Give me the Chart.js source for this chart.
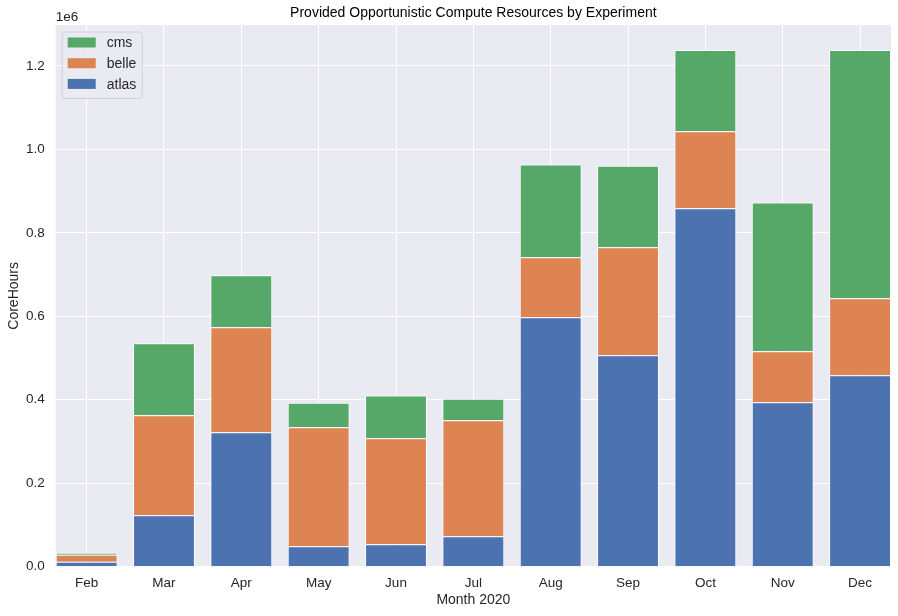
<!DOCTYPE html>
<html>
<head>
<meta charset="utf-8">
<script src="https://cdn.jsdelivr.net/npm/chart.js@4/dist/chart.umd.min.js"></script>
<style>
    body { margin: 0; background: #fff; }
</style>
</head>
<body>
<canvas id="chart" width="898" height="616"></canvas>
<script>
const months = ["Feb", "Mar", "Apr", "May", "Jun", "Jul", "Aug", "Sep", "Oct", "Nov", "Dec"];
const atlas = [12000, 123000, 322000, 49000, 53700, 72900, 597800, 506700, 859000, 394000, 458800];
const belle = [16700, 240000, 252000, 285000, 254300, 278100, 143800, 258900, 184600, 122300, 184500];
const cms = [4800, 172500, 124500, 59000, 102000, 51700, 222000, 195400, 194200, 356200, 594500];
const yTicks = [0, 200000, 400000, 600000, 800000, 1000000, 1200000];

const textColor = "#262626";
const fontFamily = "'Liberation Sans', Arial, sans-serif";

const toPoints = (arr) => arr.map((v, i) => ({ x: i, y: v }));

// plot background + offset label + legend box
const darkgrid = {
    id: "darkgrid",
    beforeDraw(chart) {
        const { ctx, chartArea: a } = chart;
        ctx.save();
        ctx.fillStyle = "#EAEAF2";
        ctx.fillRect(a.left, a.top, a.right - a.left, a.bottom - a.top);
        ctx.restore();
    },
    afterDraw(chart) {
        const { ctx, chartArea: a } = chart;
        ctx.save();
        ctx.font = `13.5px ${fontFamily}`;
        ctx.fillStyle = textColor;
        ctx.textBaseline = "alphabetic";
        ctx.textAlign = "left";
        ctx.fillText("1e6", a.left, 21);

        // legend
        const x0 = a.left + 6, y0 = a.top + 6.5, w = 80, h = 66.5;
        ctx.fillStyle = "rgba(234,234,242,0.8)";
        ctx.strokeStyle = "#d0d0d8";
        ctx.lineWidth = 1;
        ctx.beginPath();
        ctx.roundRect(x0 + 0.5, y0 + 0.5, w, h, 3);
        ctx.fill();
        ctx.stroke();
        ctx.font = `14px ${fontFamily}`;
        const items = [...chart.data.datasets].reverse();
        items.forEach((ds, i) => {
            const cy = y0 + 11 + i * 20.7;
            ctx.fillStyle = ds.backgroundColor;
            ctx.fillRect(x0 + 6, cy - 5, 28, 10);
            ctx.fillStyle = textColor;
            ctx.textBaseline = "middle";
            ctx.fillText(ds.label, x0 + 45, cy + 1);
        });
        ctx.restore();
    }
};

const barStyle = {
    borderColor: "#ffffff",
    borderWidth: { top: 1, left: 1, right: 1, bottom: 0 },
    borderSkipped: false,
    barPercentage: 0.8,
    categoryPercentage: 1.0
};

new Chart(document.getElementById("chart"), {
    type: "bar",
    data: {
        datasets: [
            { label: "atlas", data: toPoints(atlas), backgroundColor: "#4C72B0", ...barStyle },
            { label: "belle", data: toPoints(belle), backgroundColor: "#DD8452", ...barStyle },
            { label: "cms", data: toPoints(cms), backgroundColor: "#55A868", ...barStyle }
        ]
    },
    options: {
        responsive: false,
        animation: false,
        layout: { padding: { left: 0, right: 7, top: 0, bottom: 0 } },
        scales: {
            x: {
                type: "linear",
                stacked: true,
                offset: false,
                min: -0.4,
                max: 10.4,
                afterBuildTicks: (scale) => {
                    scale.ticks = months.map((_, i) => ({ value: i }));
                },
                afterFit: (scale) => { scale.height = 49.3; },
                border: { display: false },
                grid: { color: "#ffffff", lineWidth: 1, drawTicks: false, offset: false },
                ticks: {
                    color: textColor,
                    font: { family: fontFamily, size: 13.5 },
                    padding: 8.5,
                    maxRotation: 0,
                    autoSkip: false,
                    callback: (v) => months[v]
                },
                title: {
                    display: true,
                    text: "Month 2020",
                    color: textColor,
                    font: { family: fontFamily, size: 14 },
                    padding: { top: 7.6, bottom: 7.6 }
                }
            },
            y: {
                stacked: true,
                min: 0,
                max: 1298000,
                afterBuildTicks: (scale) => {
                    scale.ticks = yTicks.map((v) => ({ value: v }));
                },
                afterFit: (scale) => { scale.width = 55.7; },
                border: { display: false },
                grid: { color: "#ffffff", lineWidth: 1, drawTicks: false },
                ticks: {
                    color: textColor,
                    font: { family: fontFamily, size: 13.5 },
                    padding: 11,
                    callback: (v) => (v / 1e6).toFixed(1)
                },
                title: {
                    display: true,
                    text: "CoreHours",
                    color: textColor,
                    font: { family: fontFamily, size: 14 },
                    padding: { top: 5.6, bottom: 5.6 }
                }
            }
        },
        plugins: {
            legend: { display: false },
            tooltip: { enabled: false },
            title: {
                display: true,
                fullSize: false,
                text: "Provided Opportunistic Compute Resources by Experiment",
                color: "#000000",
                font: { family: fontFamily, size: 14, weight: "normal" },
                padding: { top: 5, bottom: 3.2 }
            }
        }
    },
    plugins: [darkgrid]
});
</script>
</body>
</html>
